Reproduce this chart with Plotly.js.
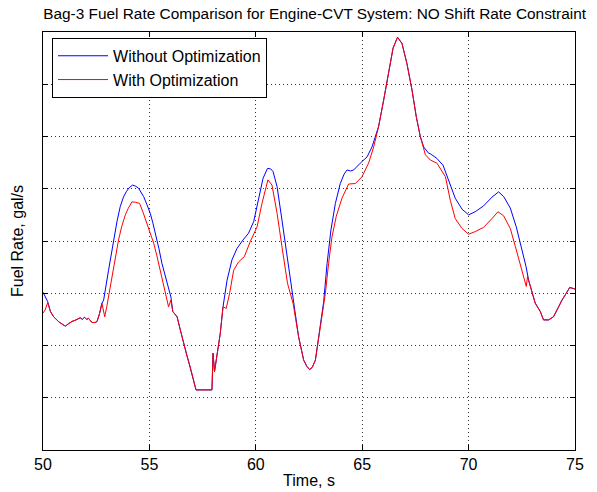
<!DOCTYPE html>
<html>
<head>
<meta charset="utf-8">
<script src="https://cdn.plot.ly/plotly-3.0.1.min.js"></script>
<style>html,body{margin:0;padding:0;background:#fff;}#chart{width:597px;height:492px;}</style>
</head>
<body>
<div id="chart"></div>
<script>
const seriesNames = ["Without Optimization", "With Optimization"];
const xTickVals = [50, 55, 60, 65, 70, 75];

const timeWithout = [50.0,50.12,50.22,50.35,50.5,50.75,51.05,51.2,51.36,51.55,51.75,51.85,51.95,52.05,52.14,52.3,52.45,52.54,52.65,52.77,52.85,53.08,53.32,53.48,53.63,53.78,53.91,54.05,54.21,54.35,54.49,54.6,54.73,54.88,55.04,55.16,55.28,55.45,55.59,55.8,56.01,56.1,56.3,56.45,56.61,56.75,56.92,57.05,57.19,57.94,57.99,58.06,58.14,58.33,58.46,58.49,58.65,58.88,59.12,59.4,59.66,59.9,60.08,60.2,60.34,60.55,60.7,60.81,61.0,61.23,61.49,61.75,62.01,62.25,62.4,62.53,62.65,62.8,63.03,63.19,63.35,63.53,63.74,63.97,64.15,64.29,64.45,64.6,64.91,65.23,65.46,65.77,66.01,66.24,66.45,66.66,66.87,67.1,67.34,67.54,67.73,67.89,68.12,68.2,68.51,68.8,69.06,69.37,69.69,70.0,70.31,70.7,71.1,71.41,71.65,71.96,72.24,72.51,72.7,72.82,72.9,73.13,73.37,73.52,73.76,73.99,74.23,74.39,74.59,74.75,74.93,75.0];
const rateWithout = [3.02,2.93,2.84,2.65,2.55,2.45,2.37,2.42,2.46,2.49,2.53,2.50,2.54,2.50,2.52,2.44,2.44,2.46,2.6,2.81,2.87,3.44,4.02,4.38,4.66,4.84,4.94,5.02,5.07,5.05,5.01,4.94,4.85,4.7,4.53,4.35,4.15,3.85,3.57,3.25,2.93,2.65,2.55,2.3,2.04,1.82,1.59,1.35,1.15,1.15,1.85,1.5,1.72,2.23,2.74,2.81,3.25,3.64,3.86,4.02,4.15,4.37,4.72,4.98,5.2,5.39,5.38,5.33,5.04,4.4,3.64,2.87,2.17,1.72,1.6,1.54,1.58,1.72,2.33,2.84,3.57,4.21,4.72,5.1,5.28,5.36,5.34,5.36,5.49,5.61,5.8,6.19,6.7,7.24,7.69,7.9,7.78,7.4,6.89,6.38,6.0,5.8,5.68,5.67,5.58,5.45,5.17,4.82,4.61,4.5,4.56,4.67,4.84,4.94,4.85,4.63,4.27,3.83,3.51,3.25,3.13,2.81,2.65,2.49,2.49,2.55,2.74,2.87,3.0,3.11,3.09,3.08];

const timeWith = [50.0,50.1,50.22,50.35,50.5,50.75,51.05,51.2,51.36,51.55,51.75,51.85,51.95,52.05,52.14,52.3,52.45,52.54,52.65,52.77,52.85,52.9,53.0,53.08,53.2,53.32,53.45,53.55,53.7,53.87,54.0,54.18,54.35,54.54,54.7,54.89,55.05,55.2,55.35,55.51,55.7,55.9,56.01,56.1,56.3,56.45,56.61,56.75,56.92,57.05,57.19,57.94,57.99,58.06,58.14,58.33,58.46,58.61,58.77,58.96,59.19,59.46,59.74,60.06,60.29,60.45,60.57,60.76,61.0,61.23,61.49,61.75,62.01,62.25,62.4,62.53,62.65,62.8,63.03,63.27,63.42,63.58,63.78,64.05,64.36,64.68,64.99,65.3,65.54,65.77,66.01,66.24,66.45,66.66,66.87,67.1,67.34,67.54,67.73,67.97,68.2,68.51,68.76,68.91,69.14,69.37,69.69,70.0,70.31,70.7,71.1,71.38,71.65,71.96,72.2,72.43,72.66,72.71,72.77,72.9,73.13,73.37,73.52,73.76,73.99,74.23,74.39,74.59,74.75,74.93,75.0];
const rateWith = [2.62,2.68,2.82,2.65,2.55,2.45,2.37,2.42,2.46,2.49,2.53,2.50,2.54,2.50,2.52,2.44,2.44,2.46,2.6,2.81,2.62,2.55,2.75,2.93,3.2,3.51,3.8,4.02,4.28,4.5,4.62,4.75,4.74,4.72,4.55,4.34,4.14,3.96,3.72,3.44,3.1,2.74,2.87,2.65,2.55,2.3,2.04,1.82,1.59,1.35,1.15,1.15,1.85,1.5,1.72,2.23,2.74,2.71,3.0,3.44,3.6,3.7,3.99,4.27,4.72,5.0,5.17,5.07,4.53,3.89,3.19,2.81,2.17,1.72,1.6,1.54,1.58,1.72,2.33,3.0,3.57,4.08,4.47,4.82,5.09,5.1,5.23,5.49,5.8,6.19,6.7,7.24,7.69,7.9,7.78,7.4,6.89,6.38,6.0,5.65,5.55,5.49,5.33,5.23,4.78,4.43,4.24,4.13,4.18,4.26,4.43,4.56,4.48,4.24,3.89,3.57,3.25,3.13,3.32,3.13,2.81,2.65,2.49,2.49,2.55,2.74,2.87,3.0,3.11,3.09,3.08];

const font = "Liberation Sans, Arial, sans-serif";
const traces = [
  {x: timeWithout, y: rateWithout, name: seriesNames[0], type: "scatter", mode: "lines", line: {color: "#0000ff", width: 1}},
  {x: timeWith, y: rateWith, name: seriesNames[1], type: "scatter", mode: "lines", line: {color: "#ff0000", width: 1}}
];
const layout = {
  width: 597, height: 492,
  margin: {l: 43, r: 22, t: 32, b: 42, pad: 0},
  paper_bgcolor: "#ffffff", plot_bgcolor: "#ffffff",
  font: {family: font, size: 16, color: "#000"},
  title: {text: "Bag-3 Fuel Rate Comparison for Engine-CVT System: NO Shift Rate Constraint", font: {family: font, size: 15.4, color: "#000"}, x: 0.527, xanchor: "center", y: 0.973, yanchor: "middle", xref: "container", yref: "container"},
  xaxis: {
    range: [50, 75], tickvals: xTickVals, ticks: "inside", ticklen: 5, tickcolor: "#000",
    showline: true, linecolor: "#000", linewidth: 1, mirror: "ticks",
    showgrid: true, gridcolor: "#333", griddash: "1px,3px", gridwidth: 1, zeroline: false,
    tickfont: {family: font, size: 16, color: "#000"},
    title: {text: "Time, s", font: {family: font, size: 16, color: "#000"}, standoff: 2}
  },
  yaxis: {
    range: [0, 8], dtick: 1, tick0: 0, ticks: "inside", ticklen: 5, tickcolor: "#000", showticklabels: false,
    showline: true, linecolor: "#000", linewidth: 1, mirror: "ticks",
    showgrid: true, gridcolor: "#333", griddash: "1px,3px", gridwidth: 1, zeroline: false,
    title: {text: "Fuel Rate, gal/s", font: {family: font, size: 16, color: "#000"}, standoff: 14}
  },
  legend: {
    x: 0.017, y: 0.986, xanchor: "left", yanchor: "top",
    bgcolor: "#ffffff", bordercolor: "#000", borderwidth: 1,
    font: {family: font, size: 16, color: "#000"}, itemwidth: 50, tracegroupgap: 0
  },
  showlegend: true
};
Plotly.newPlot("chart", traces, layout, {staticPlot: true, displayModeBar: false});
</script>
</body>
</html>
